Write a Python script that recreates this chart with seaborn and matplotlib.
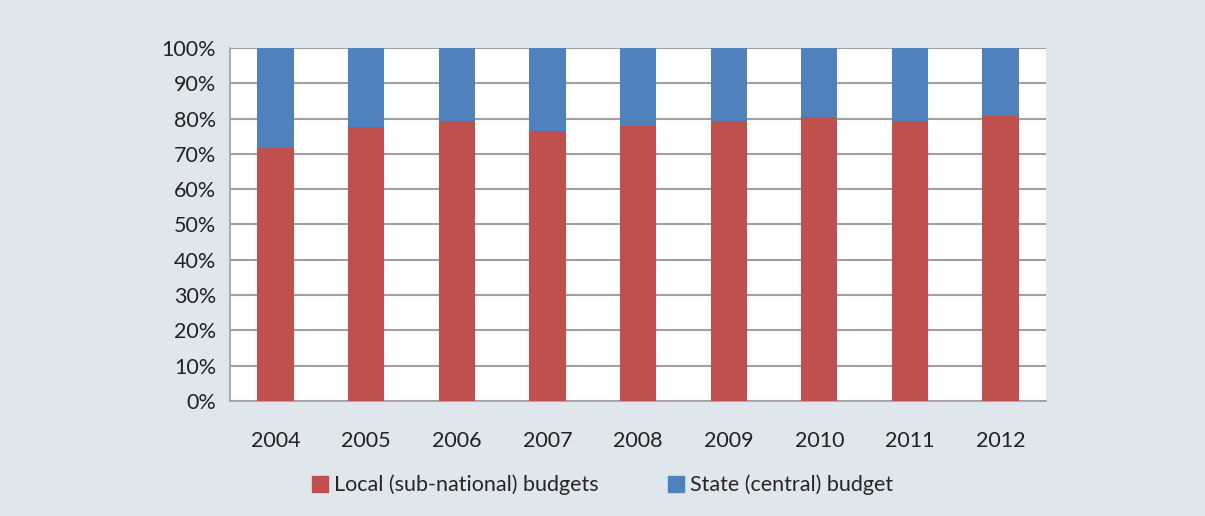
import numpy as np
import pandas as pd
import seaborn as sns
import matplotlib.pyplot as plt
from matplotlib.ticker import PercentFormatter, FixedLocator
from matplotlib.patches import Patch

years = ['2004', '2005', '2006', '2007', '2008', '2009', '2010', '2011', '2012']
local_share = [71.7, 77.5, 79.3, 76.4, 78.0, 79.4, 80.4, 79.2, 80.7]
state_share = [100 - v for v in local_share]

red = '#c0504d'
blue = '#4f81bd'
bg = '#dfe7ed'

df = pd.DataFrame({'year': years, 'local': local_share,
                   'total': np.array(local_share) + np.array(state_share)})

sns.set_style('white')
plt.rcParams['font.family'] = ['Lato', 'DejaVu Sans']

fig = plt.figure(figsize=(12.05, 5.16), dpi=100, facecolor=bg)
ax = fig.add_axes([0.191, 0.223, 0.677, 0.684])
ax.set_facecolor('white')

# stacked: full bar in blue, local part in red on top of it
sns.barplot(data=df, x='year', y='total', color=blue, width=0.4,
            saturation=1, linewidth=0, ax=ax, zorder=3)
sns.barplot(data=df, x='year', y='local', color=red, width=0.4,
            saturation=1, linewidth=0, ax=ax, zorder=3)

ax.set_ylim(0, 100)
ax.set_xlim(-0.5, len(years) - 0.5)
ax.set_yticks(np.arange(0, 101, 10))
ax.yaxis.set_major_formatter(PercentFormatter(decimals=0))
ax.yaxis.grid(True, color='#a0a0a4', linewidth=1.5, zorder=0)
ax.set_axisbelow(True)

ax.xaxis.set_minor_locator(FixedLocator(np.arange(-0.5, len(years), 1)))
ax.tick_params(axis='x', which='major', length=0, pad=22, labelsize=15.5, colors='#222222')
ax.tick_params(axis='x', which='minor', length=6, width=1.2, color='#a0a0a4', direction='out')
ax.tick_params(axis='y', length=6, width=1.2, color='#a0a0a4', direction='out',
               labelsize=15.5, labelcolor='#222222', pad=4)
ax.set_xlabel('')
ax.set_ylabel('')

for s in ['top', 'right']:
    ax.spines[s].set_visible(False)
for s in ['left', 'bottom']:
    ax.spines[s].set_color('#a0a0a4')
    ax.spines[s].set_linewidth(1.2)

handles = [Patch(color=red, label='Local (sub-national) budgets'),
           Patch(color=blue, label='State (central) budget')]
fig.legend(handles=handles, loc='center', bbox_to_anchor=(0.5, 0.06), ncol=2,
           frameon=False, fontsize=15.5, handlelength=0.75, handleheight=0.75,
           handletextpad=0.3, columnspacing=3.2)

fig.savefig('out.png', dpi=100, facecolor=bg)
